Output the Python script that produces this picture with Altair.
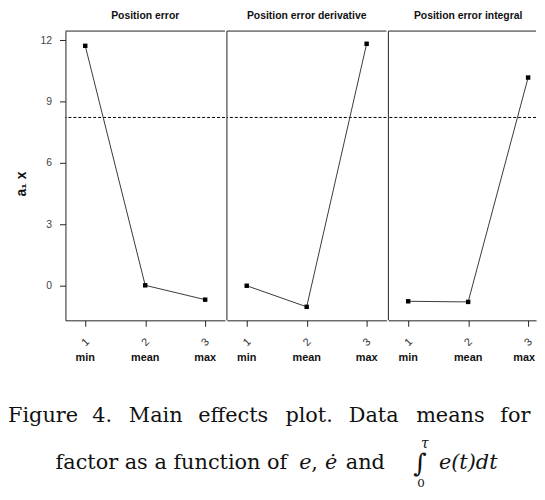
import altair as alt
import pandas as pd

# ---------------- data ----------------
levels = [1, 2, 3]
level_names = ["min", "mean", "max"]
panel_titles = ["Position error", "Position error derivative", "Position error integral"]
pos_error = [11.72, 0.02, -0.68]
pos_error_derivative = [0.0, -1.03, 11.82]
pos_error_integral = [-0.76, -0.79, 10.17]
overall_mean = 8.22
y_ticks = [0, 3, 6, 9, 12]
y_title = "a\u2081 x"

caption_line1 = ["Figure", "4.", "Main", "effects", "plot.", "Data", "means", "for"]
caption_line2_roman = ["factor as a function of", ",", "and"]
caption_line2_italic = ["e", "\u0117", "e(t)dt"]
integral_sign = "\u222b"
integral_upper = "\u03c4"
integral_lower = "0"

series = [pos_error, pos_error_derivative, pos_error_integral]

# ---------------- layout ----------------
W, H = 161, 292
W_LAST = 149          # last panel is cut by the page edge in the reference
SANS = "Liberation Sans"
SERIF = "DejaVu Serif"
INK = "#222222"
X_LO, X_HI = 0.67, 3.33

yscale = alt.Scale(domain=[-1.69, 12.44], nice=False, zero=False)


def panel(i):
    w = W if i < 2 else W_LAST
    x_hi = X_LO + (X_HI - X_LO) * w / W
    xscale = alt.Scale(domain=[X_LO, x_hi], nice=False, zero=False)
    df = pd.DataFrame({"level": levels, "name": level_names, "value": series[i]})
    xaxis = alt.Axis(values=levels, format="d", labelAngle=-45, labelAlign="center",
                     labelBaseline="middle", labelPadding=16, tickSize=6,
                     labelFont=SANS, labelFontSize=11, labelColor="#333333",
                     labelFlush=False, labelOverlap=False, grid=False,
                     domainColor=INK, tickColor=INK, title=None)
    if i == 0:
        yaxis = alt.Axis(values=y_ticks, tickSize=6, labelPadding=8, labelFont=SANS,
                         labelFontSize=10.5, labelColor="#444444", labelFlush=False,
                         grid=False, domainColor=INK, tickColor=INK,
                         titleFont=SANS, titleFontSize=14,
                         titleFontWeight="bold", titleColor="#111111",
                         titlePadding=12, titleY=154)
        Y = alt.Y("value:Q", scale=yscale, axis=yaxis, title=y_title)
        Ym = alt.Y("m:Q", scale=yscale, axis=yaxis, title=y_title)
    else:
        Y = alt.Y("value:Q", scale=yscale, axis=None)
        Ym = alt.Y("m:Q", scale=yscale, axis=None)
    X = alt.X("level:Q", scale=xscale, axis=xaxis)

    base = alt.Chart(df)
    line = base.mark_line(color="#3a3a3a", strokeWidth=1).encode(x=X, y=Y)
    pts = base.mark_square(size=20, color="black", opacity=1).encode(x=X, y=Y)
    name_style = dict(font=SANS, fontSize=11, fontWeight="bold", color="#111111",
                      baseline="middle")
    if i < 2:
        names = [base.mark_text(**name_style).encode(
            x=X, y=alt.value(H + 38), text="name:N")]
    else:
        names = [
            base.transform_filter(alt.datum.level < 3).mark_text(**name_style).encode(
                x=X, y=alt.value(H + 38), text="name:N"),
            base.transform_filter(alt.datum.level == 3).mark_text(
                align="right", dx=7, **name_style).encode(
                x=X, y=alt.value(H + 38), text="name:N"),
        ]
    mean_rule = alt.Chart(pd.DataFrame({"m": [overall_mean]})).mark_rule(
        color="black", strokeWidth=1, strokeDash=[3, 2]).encode(y=Ym)

    tdf = pd.DataFrame({"title": [panel_titles[i]]})
    title = alt.Chart(tdf).mark_text(font=SANS, fontSize=10.5, fontWeight="bold",
                                     color="#111111", baseline="alphabetic",
                                     align="center").encode(
        x=alt.value(W / 2), y=alt.value(-12.5), text="title:N")
    frame_top = alt.Chart(tdf).mark_rule(color=INK, strokeWidth=1).encode(y=alt.value(0))
    layers = [mean_rule, line, pts] + names + [title, frame_top]
    if i > 0:
        layers.append(alt.Chart(tdf).mark_rule(color=INK, strokeWidth=1).encode(
            x=alt.value(0)))
    return alt.layer(*layers).properties(width=w, height=H)


# caption: placed in pixels inside the caption view (identity scales)
OX, OY = 66, 362.5


def caption_unit(texts, xs, ys, size, style):
    df = pd.DataFrame({"t": texts, "px": [x - OX for x in xs], "py": [y - OY for y in ys]})
    return alt.Chart(df).mark_text(font=SERIF, fontSize=size, fontStyle=style,
                                   align="left", baseline="alphabetic",
                                   color="#111111").encode(
        x=alt.X("px:Q", scale=None, axis=None),
        y=alt.Y("py:Q", scale=None, axis=None),
        text="t:N")


cap1 = caption_unit(caption_line1, [8, 93, 130, 200, 288, 352, 420, 505], [422] * 8, 21, "normal")
cap2 = caption_unit(caption_line2_roman, [56, 314, 349], [470] * 3, 21, "normal")
cap3 = caption_unit(caption_line2_italic, [302, 328, 443], [470] * 3, 21, "italic")
cap4 = caption_unit([integral_sign], [417], [473], 26, "normal")
cap5 = caption_unit([integral_upper], [425], [448], 14, "italic")
cap6 = caption_unit([integral_lower], [421], [488], 12, "normal")

caption = alt.layer(cap1, cap2, cap3, cap4, cap5, cap6).properties(width=3 * W - 20, height=100)

top = alt.hconcat(*[panel(i) for i in range(3)], spacing=0)
chart = alt.vconcat(top, caption, spacing=0).properties(
    padding=0).configure_view(strokeOpacity=0, strokeWidth=0)

chart.save("out.html", embed_options={"renderer": "svg", "actions": False})
